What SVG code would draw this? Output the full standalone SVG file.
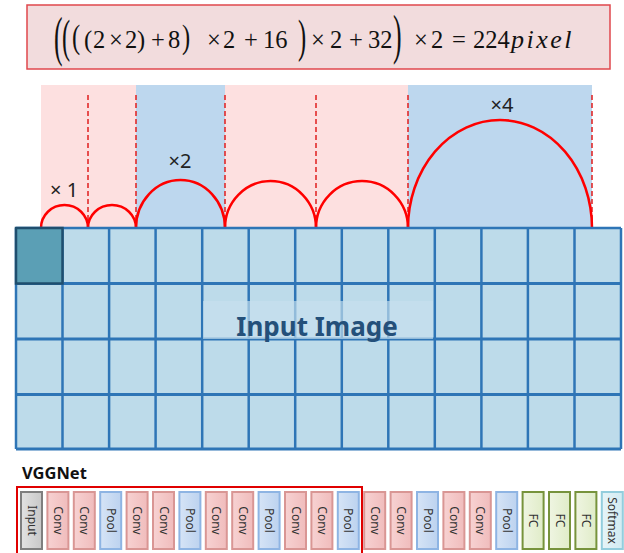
<svg xmlns="http://www.w3.org/2000/svg" width="624" height="553" viewBox="0 0 624 553">
<style>
.frm{font-family:"Liberation Serif",serif;font-size:24.5px;fill:#111}
.lbl{font-family:"Noto Sans","Liberation Sans",sans-serif;font-size:20px;fill:#222}
.dash{stroke:#e01e1e;stroke-width:1.5;stroke-dasharray:5 3;fill:none}
.arc{stroke:#f00;stroke-width:2.5;fill:none}
.gl{stroke:#2e75b6;stroke-width:2.5}
.blk{stroke-width:2}
.conv{fill:url(#gConv);stroke:#d99694}
.pool{fill:url(#gPool);stroke:#8eb4e3}
.inp{fill:url(#gInp);stroke:#7f7f7f}
.fc{fill:url(#gFc);stroke:#77933c}
.sm{fill:url(#gSm);stroke:#93cddd}
.bt{font-family:"Noto Sans","Liberation Sans",sans-serif;font-size:12px;fill:#333;text-anchor:middle}
</style>
<defs>
<linearGradient id="gConv" x1="0" y1="0" x2="1" y2="0"><stop offset="0" stop-color="#f7d2d2"/><stop offset="1" stop-color="#f0bcbc"/></linearGradient>
<linearGradient id="gPool" x1="0" y1="0" x2="1" y2="0"><stop offset="0" stop-color="#d6e4f6"/><stop offset="1" stop-color="#bcd2ef"/></linearGradient>
<linearGradient id="gInp" x1="0" y1="0" x2="1" y2="0"><stop offset="0" stop-color="#e2e2e2"/><stop offset="1" stop-color="#c8c8c8"/></linearGradient>
<linearGradient id="gFc" x1="0" y1="0" x2="1" y2="0"><stop offset="0" stop-color="#eff5e2"/><stop offset="1" stop-color="#e0ecc8"/></linearGradient>
<linearGradient id="gSm" x1="0" y1="0" x2="1" y2="0"><stop offset="0" stop-color="#e6f4f8"/><stop offset="1" stop-color="#d2ebf2"/></linearGradient>
</defs>

<g id="formula">
<rect x="27" y="5" width="583" height="64" fill="#f2dcdd" stroke="#e0474c" stroke-width="1.5"/>
<text class="frm" transform="translate(54,42) scale(1.05,2.25)" y="5.8">(</text>
<text class="frm" transform="translate(62,41) scale(1,1.9)" y="5.8">(</text>
<text class="frm" transform="translate(72,40) scale(1,1.38)" y="5.8">(</text>
<text class="frm" y="48"><tspan x="84">(</tspan><tspan x="93">2</tspan><tspan x="109">×</tspan><tspan x="125">2</tspan><tspan x="137">)</tspan><tspan x="151">+</tspan><tspan x="168">8</tspan><tspan x="207">×</tspan><tspan x="223">2</tspan><tspan x="244">+</tspan><tspan x="263">16</tspan><tspan x="311">×</tspan><tspan x="330">2</tspan><tspan x="349">+</tspan><tspan x="368">32</tspan><tspan x="414">×</tspan><tspan x="431">2</tspan><tspan x="452">=</tspan><tspan x="473">224</tspan><tspan x="511" font-style="italic" font-size="26" letter-spacing="2.5">pixel</tspan></text>
<text class="frm" transform="translate(182,40) scale(1,1.38)" y="5.8">)</text>
<text class="frm" transform="translate(298,41) scale(1,1.9)" y="5.8">)</text>
<text class="frm" transform="translate(393,40) scale(1.05,2.25)" y="5.8">)</text>
</g>

<g id="receptive-field">
<rect x="41" y="85" width="95" height="143" fill="#fde0e0"/>
<rect x="136" y="85" width="89" height="143" fill="#bdd7ee"/>
<rect x="225" y="85" width="183" height="143" fill="#fde0e0"/>
<rect x="408" y="85" width="184" height="143" fill="#bdd7ee"/>
<line class="dash" x1="88" y1="95" x2="88" y2="228"/>
<line class="dash" x1="136" y1="95" x2="136" y2="228"/>
<line class="dash" x1="225" y1="95" x2="225" y2="228"/>
<line class="dash" x1="316" y1="95" x2="316" y2="228"/>
<line class="dash" x1="408" y1="95" x2="408" y2="228"/>
<line class="dash" x1="592" y1="95" x2="592" y2="228"/>
<path class="arc" d="M41,228 A23.5,23 0 0 1 88,228"/>
<path class="arc" d="M88,228 A24,23 0 0 1 136,228"/>
<path class="arc" d="M136,228 A44.5,48 0 0 1 225,228"/>
<path class="arc" d="M225,228 A45.5,47 0 0 1 316,228"/>
<path class="arc" d="M316,228 A46,47 0 0 1 408,228"/>
<path class="arc" d="M408,228 A92,108 0 0 1 592,228"/>
<text class="lbl" x="50" y="197">× 1</text>
<text class="lbl" x="180" y="168" text-anchor="middle">×2</text>
<text class="lbl" x="502" y="112" text-anchor="middle">×4</text>
</g>

<g id="input-image">
<rect x="16" y="228" width="605" height="221" fill="#bddbea"/>
<g class="gl">
<line x1="16" y1="228" x2="621" y2="228"/>
<line x1="16" y1="283.5" x2="621" y2="283.5" stroke-width="3"/>
<line x1="16" y1="339" x2="621" y2="339" stroke-width="3"/>
<line x1="16" y1="394.5" x2="621" y2="394.5" stroke-width="3"/>
<line x1="16" y1="449" x2="621" y2="449" stroke-width="3"/>
<line x1="16" y1="228" x2="16" y2="449"/>
<line x1="62.5" y1="228" x2="62.5" y2="449"/>
<line x1="109.1" y1="228" x2="109.1" y2="449"/>
<line x1="155.6" y1="228" x2="155.6" y2="449"/>
<line x1="202.2" y1="228" x2="202.2" y2="449"/>
<line x1="248.7" y1="228" x2="248.7" y2="449"/>
<line x1="295.2" y1="228" x2="295.2" y2="449"/>
<line x1="341.8" y1="228" x2="341.8" y2="449"/>
<line x1="388.3" y1="228" x2="388.3" y2="449"/>
<line x1="434.8" y1="228" x2="434.8" y2="449"/>
<line x1="481.4" y1="228" x2="481.4" y2="449"/>
<line x1="527.9" y1="228" x2="527.9" y2="449"/>
<line x1="574.5" y1="228" x2="574.5" y2="449"/>
<line x1="621" y1="228" x2="621" y2="449"/>
</g>
<rect x="16" y="228" width="46.5" height="55.5" fill="#5b9fb5" stroke="#1f4e6e" stroke-width="2.5"/>
<rect x="203" y="301" width="230" height="38" fill="#c8e1ee" opacity="0.65"/>
<text x="317" y="336" text-anchor="middle" font-family="Noto Sans, Liberation Sans, sans-serif" font-size="26" font-weight="bold" fill="#24507a">Input Image</text>
</g>

<g id="vggnet">
<text x="22" y="479" font-family="Noto Sans, Liberation Sans, sans-serif" font-size="16.5" font-weight="bold" fill="#111">VGGNet</text>
<rect x="17" y="487" width="345" height="70" fill="none" stroke="#e00000" stroke-width="2"/>
</g>

<g id="layers">
<g id="l0"><rect class="blk inp" x="21" y="492" width="21" height="57"/><text class="bt" transform="translate(31.5,520.5) rotate(90)" y="4">Input</text></g>
<g id="l1"><rect class="blk conv" x="47.4" y="492" width="21" height="57"/><text class="bt" transform="translate(57.9,520.5) rotate(90)" y="4">Conv</text></g>
<g id="l2"><rect class="blk conv" x="73.8" y="492" width="21" height="57"/><text class="bt" transform="translate(84.3,520.5) rotate(90)" y="4">Conv</text></g>
<g id="l3"><rect class="blk pool" x="100.2" y="492" width="21" height="57"/><text class="bt" transform="translate(110.7,520.5) rotate(90)" y="4">Pool</text></g>
<g id="l4"><rect class="blk conv" x="126.6" y="492" width="21" height="57"/><text class="bt" transform="translate(137.1,520.5) rotate(90)" y="4">Conv</text></g>
<g id="l5"><rect class="blk conv" x="153" y="492" width="21" height="57"/><text class="bt" transform="translate(163.5,520.5) rotate(90)" y="4">Conv</text></g>
<g id="l6"><rect class="blk pool" x="179.4" y="492" width="21" height="57"/><text class="bt" transform="translate(189.9,520.5) rotate(90)" y="4">Pool</text></g>
<g id="l7"><rect class="blk conv" x="205.8" y="492" width="21" height="57"/><text class="bt" transform="translate(216.3,520.5) rotate(90)" y="4">Conv</text></g>
<g id="l8"><rect class="blk conv" x="232.2" y="492" width="21" height="57"/><text class="bt" transform="translate(242.7,520.5) rotate(90)" y="4">Conv</text></g>
<g id="l9"><rect class="blk pool" x="258.6" y="492" width="21" height="57"/><text class="bt" transform="translate(269.1,520.5) rotate(90)" y="4">Pool</text></g>
<g id="l10"><rect class="blk conv" x="285" y="492" width="21" height="57"/><text class="bt" transform="translate(295.5,520.5) rotate(90)" y="4">Conv</text></g>
<g id="l11"><rect class="blk conv" x="311.4" y="492" width="21" height="57"/><text class="bt" transform="translate(321.9,520.5) rotate(90)" y="4">Conv</text></g>
<g id="l12"><rect class="blk pool" x="337.8" y="492" width="21" height="57"/><text class="bt" transform="translate(348.3,520.5) rotate(90)" y="4">Pool</text></g>
<g id="l13"><rect class="blk conv" x="364.2" y="492" width="21" height="57"/><text class="bt" transform="translate(374.7,520.5) rotate(90)" y="4">Conv</text></g>
<g id="l14"><rect class="blk conv" x="390.6" y="492" width="21" height="57"/><text class="bt" transform="translate(401.1,520.5) rotate(90)" y="4">Conv</text></g>
<g id="l15"><rect class="blk pool" x="417" y="492" width="21" height="57"/><text class="bt" transform="translate(427.5,520.5) rotate(90)" y="4">Pool</text></g>
<g id="l16"><rect class="blk conv" x="443.4" y="492" width="21" height="57"/><text class="bt" transform="translate(453.9,520.5) rotate(90)" y="4">Conv</text></g>
<g id="l17"><rect class="blk conv" x="469.8" y="492" width="21" height="57"/><text class="bt" transform="translate(480.3,520.5) rotate(90)" y="4">Conv</text></g>
<g id="l18"><rect class="blk pool" x="496.2" y="492" width="21" height="57"/><text class="bt" transform="translate(506.7,520.5) rotate(90)" y="4">Pool</text></g>
<g id="l19"><rect class="blk fc" x="522.6" y="492" width="21" height="57"/><text class="bt" transform="translate(533.1,520.5) rotate(90)" y="4">FC</text></g>
<g id="l20"><rect class="blk fc" x="549" y="492" width="21" height="57"/><text class="bt" transform="translate(559.5,520.5) rotate(90)" y="4">FC</text></g>
<g id="l21"><rect class="blk fc" x="575.4" y="492" width="21" height="57"/><text class="bt" transform="translate(585.9,520.5) rotate(90)" y="4">FC</text></g>
<g id="l22"><rect class="blk sm" x="601.8" y="492" width="21" height="57"/><text class="bt" transform="translate(612.3,520.5) rotate(90)" y="4">Softmax</text></g>
</g>
<g id="connectors"/>
</svg>
